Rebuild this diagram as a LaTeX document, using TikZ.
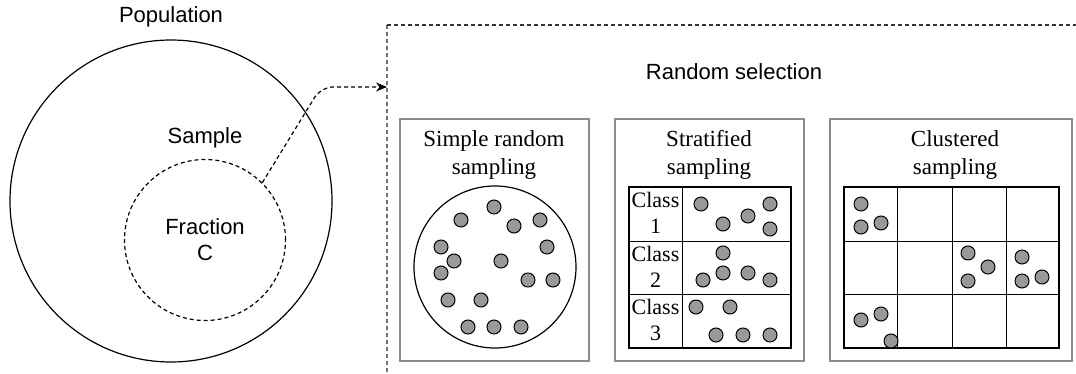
\documentclass[tikz,border=0pt]{standalone}
\usepackage{fontspec}
\setmainfont{Liberation Serif}
\newfontfamily\labelfont{Liberation Sans}
\usetikzlibrary{arrows.meta}

\begin{document}
\begin{tikzpicture}[x=1pt,y=-1pt,
  sanslabel/.style={font=\labelfont\fontsize{22}{26}\selectfont, align=center, inner sep=0pt},
  seriflabel/.style={font=\fontsize{23}{28}\selectfont, align=center, inner sep=0pt},
  classlabel/.style={font=\fontsize{22}{26}\selectfont, align=center, inner sep=0pt},
  panel/.style={draw=black!45, line width=1.3pt},
  cellline/.style={draw=black, line width=1pt},
  gridframe/.style={draw=black, line width=1.5pt},
  smp/.style={draw=black, fill=black!40, line width=1pt},
  dashline/.style={dash pattern=on 4pt off 3pt, line width=1.2pt},
]
\useasboundingbox (0,0) rectangle (1076,374);

% ---- population and sample ----
\node[sanslabel] (poplabel) at (171,17) {Population};
\node[draw, circle, minimum size=322pt, inner sep=0pt, line width=1.2pt] (pop) at (171,201) {};
\node[sanslabel] (samplabel) at (205,138) {Sample};
\node[draw, circle, minimum size=161pt, inner sep=0pt, dashline] (sample) at (205,240) {};
\node[sanslabel] (fraction) at (205,240) {Fraction\\C};

% ---- random selection frame ----
\coordinate (frameTL) at (387,25);
\coordinate (frameBL) at (387,374);
\coordinate (frameTR) at (1076,25);
\coordinate (frameIn) at (387,87);
\draw[dashline, draw=black!55] (frameTL) -- (frameBL);
\draw[dashline, draw=black!80] (frameTL) -- (frameTR);
\node[sanslabel] (selection) at (734,72) {Random selection};

\draw[dashline, rounded corners=12pt, -{Stealth[length=11pt,width=9pt]}]
  (sample.45) -- (321,87) -- (frameIn);

% ---- simple random sampling ----
\node[panel, minimum width=189pt, minimum height=242pt, inner sep=0pt] (box1) at (494.5,240) {};
\node[seriflabel] (title1) at (494,155) {Simple random\\sampling};
\node[draw, circle, minimum size=162pt, inner sep=0pt, line width=1.2pt] (srsdisk) at (495,267) {};
\foreach \p in {(494,207),(461,220),(514,226),(540,220),(441,247),(547,247),
                (454,261),(501,261),(441,273),(528,280),(553,280),(448,300),
                (481,300),(468,327),(494,327),(521,327)}
  \draw[smp] \p circle (7);

% ---- stratified sampling ----
\node[panel, minimum width=189pt, minimum height=242pt, inner sep=0pt] (box2) at (709.5,240) {};
\node[seriflabel] (title2) at (709,155) {Stratified\\sampling};
\draw[cellline] (629,241) -- (791,241);
\draw[cellline] (629,294) -- (791,294);
\draw[cellline] (682,187) -- (682,348);
\draw[gridframe] (629,187) rectangle (791,348);
\node[classlabel] (class1) at (655.5,213) {Class\\1};
\node[classlabel] (class2) at (655.5,267) {Class\\2};
\node[classlabel] (class3) at (655.5,320) {Class\\3};
\foreach \p in {(701,204),(723,224),(748,216),(770,204),(770,229),
                (723,253),(703,280),(723,273),(748,273),(770,280),
                (696,307),(730,307),(716,335),(743,335),(770,335)}
  \draw[smp] \p circle (7);

% ---- clustered sampling ----
\node[panel, minimum width=242pt, minimum height=242pt, inner sep=0pt] (box3) at (951,240) {};
\node[seriflabel] (title3) at (955,155) {Clustered\\sampling};
\foreach \x in {897,952,1006} \draw[cellline] (\x,187) -- (\x,348);
\foreach \y in {241,294} \draw[cellline] (844,\y) -- (1059,\y);
\draw[gridframe] (844,187) rectangle (1059,348);
\foreach \p in {(861,204),(861,227),(881,223),
                (968,253),(988,267),(968,281),
                (1022,257),(1022,281),(1042,277),
                (861,320),(881,314),(891,341)}
  \draw[smp] \p circle (7);
\end{tikzpicture}
\end{document}
